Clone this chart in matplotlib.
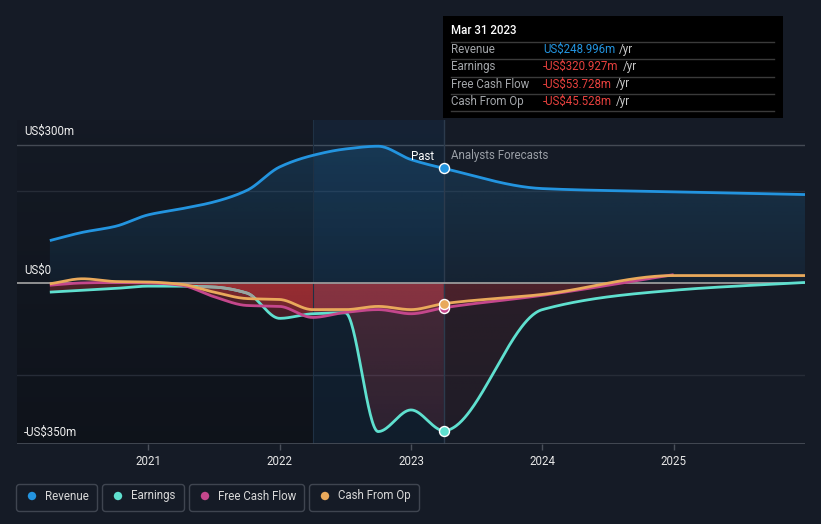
import numpy as np
import matplotlib
matplotlib.use("Agg")
import matplotlib.pyplot as plt
from matplotlib.patches import Rectangle, FancyBboxPatch, Polygon, Circle
from matplotlib.transforms import IdentityTransform

plt.rcParams['font.family'] = ['Roboto', 'DejaVu Sans']

# ---------------- data (US$ m) ----------------
past_x = [2020.25, 2020.5, 2020.75, 2021.0, 2021.25, 2021.5, 2021.75,
          2022.0, 2022.25, 2022.5, 2022.75, 2023.0, 2023.25]
revenue_past = [92, 110, 123, 148, 161, 176, 201, 252, 277, 291, 297, 268, 249]
earnings_past = [-20, -16, -12, -7, -7, -9, -22, -77, -67, -65, -323, -276, -321]
fcf_past = [-5, 0, 1, 0, -5, -30, -49, -51, -75, -64, -58, -67, -54]
cfo_past = [-2, 9, 3, 2, -3, -20, -34, -36, -58, -58, -51, -58, -45]

fc_x = [2024.0, 2025.0, 2026.0]
revenue_fc = [205, 198, 192]
earnings_fc = [-58, -16, 1]
fcf_fc_x = [2024.0, 2025.0]
fcf_fc = [-27, 18]
cfo_fc = [-25, 16, 16]

year_ticks = [2021, 2022, 2023, 2024, 2025]
tooltip_rows = [("Revenue", "US$248.996m"), ("Earnings", "-US$320.927m"),
                ("Free Cash Flow", "-US$53.728m"), ("Cash From Op", "-US$45.528m")]
legend_names = ["Revenue", "Earnings", "Free Cash Flow", "Cash From Op"]

# ---------------- style ----------------
BG = "#151b26"
C_REV = "#2394df"
C_EARN = "#5fe0cf"
C_FCF = "#c4478c"
C_CFO = "#e9a95b"
W, H = 821, 524
NOW = 2023.25


def pchip(x, y, xn):
    x = np.asarray(x, float); y = np.asarray(y, float)
    h = np.diff(x); d = np.diff(y) / h
    n = len(x); m = np.zeros(n)
    m[0] = d[0]; m[-1] = d[-1]
    for k in range(1, n - 1):
        if d[k - 1] * d[k] <= 0:
            m[k] = 0.0
        else:
            w1 = 2 * h[k] + h[k - 1]; w2 = h[k] + 2 * h[k - 1]
            m[k] = (w1 + w2) / (w1 / d[k - 1] + w2 / d[k])
    out = np.empty_like(xn)
    idx = np.clip(np.searchsorted(x, xn) - 1, 0, n - 2)
    for i, (xi, k) in enumerate(zip(xn, idx)):
        t = (xi - x[k]) / h[k]
        h00 = 2 * t**3 - 3 * t**2 + 1; h10 = t**3 - 2 * t**2 + t
        h01 = -2 * t**3 + 3 * t**2; h11 = t**3 - t**2
        out[i] = h00 * y[k] + h10 * h[k] * m[k] + h01 * y[k + 1] + h11 * h[k] * m[k + 1]
    return out


def curve(xs, ys):
    xn = np.linspace(xs[0], xs[-1], 800)
    return xn, pchip(xs, ys, xn)


fig = plt.figure(figsize=(W / 100, H / 100), dpi=100, facecolor=BG)
ax_top_px, ax_bot_px = 120, 444
ax = fig.add_axes([17 / W, (H - ax_bot_px) / H, (805 - 17) / W, (ax_bot_px - ax_top_px) / H])
ax.set_facecolor(BG)
XMIN, XMAX = 2020.0, 2026.0
YMIN, YMAX = -350, 354
for s in ax.spines.values():
    s.set_visible(False)

# past darkening gradient
dark = np.zeros((200, 2, 4))
dark[..., 3] = np.linspace(0.04, 0.30, 200)[:, None]
ax.imshow(dark, extent=[XMIN, NOW, YMIN, YMAX], aspect='auto', origin='upper', zorder=0.5)

# grid lines
for yv, col in [(300, "#444a54"), (200, "#262c37"), (-200, "#262c37")]:
    ax.axhline(yv, color=col, lw=1, zorder=1)

# series curves
rx, ry = curve(past_x + fc_x, revenue_past + revenue_fc)
ex, ey = curve(past_x + fc_x, earnings_past + earnings_fc)
fx, fy = curve(past_x + fcf_fc_x, fcf_past + fcf_fc)
cx, cy = curve(past_x + fc_x, cfo_past + cfo_fc)

# revenue gradient fill
gy = np.linspace(1, 0, 200)
img = np.zeros((200, 2, 4))
img[..., 0], img[..., 1], img[..., 2] = 35 / 255, 148 / 255, 223 / 255
img[..., 3] = (0.07 + 0.13 * gy)[:, None]
poly = Polygon(np.column_stack([np.r_[rx, rx[::-1]], np.r_[ry, np.zeros_like(rx)]]),
               closed=True, fc='none', ec='none')
ax.add_patch(poly)
im = ax.imshow(img, extent=[XMIN, XMAX, 0, 300], aspect='auto', origin='upper', zorder=2)
im.set_clip_path(poly)

# red negative fills
NX = 600
xs_img = np.linspace(XMIN, XMAX, NX)
base = np.where(xs_img < NOW, 0.29, 0.10)
depth = np.linspace(0, 1, 200)
red = np.zeros((200, NX, 4))
red[..., 0], red[..., 1], red[..., 2] = 228 / 255, 58 / 255, 62 / 255
red[..., 3] = base[None, :] * (1 - 0.5 * depth)[:, None]
for xx, yy in [(ex, ey), (fx, fy), (cx, cy)]:
    neg = np.minimum(yy, 0)
    p = Polygon(np.column_stack([np.r_[xx, xx[::-1]], np.r_[neg, np.zeros_like(xx)]]),
                closed=True, fc='none', ec='none')
    ax.add_patch(p)
    r = ax.imshow(red, extent=[XMIN, XMAX, -350, 0], aspect='auto', origin='upper', zorder=2.2)
    r.set_clip_path(p)

# highlight band (last year of past)
ax.add_patch(Rectangle((2022.25, YMIN), 1.0, YMAX - YMIN, fc=(0.12, 0.42, 0.68), alpha=0.12,
                       ec='none', zorder=2.5))
ax.axvline(2022.25, color="#1f3144", lw=0.8, zorder=2.6)
ax.axvline(NOW, color="#2c3b4d", lw=1.0, zorder=2.6)

# zero line and bottom axis
ax.axhline(0, color="#9a9a9a", lw=1.3, zorder=3)
ax.axhline(YMIN + 0.8, color="#4a505a", lw=1.2, zorder=3)

# lines
ax.plot(ex, ey, color=C_EARN, lw=2.0, zorder=4, solid_capstyle='butt')
seg = (ex >= 2021.38) & (ex <= 2021.8)
ax.plot(ex[seg], ey[seg], color="#9aa39f", lw=2.0, zorder=4.05)
ax.plot(fx, fy, color=C_FCF, lw=2.0, zorder=4.1, solid_capstyle='butt')
ax.plot(cx, cy, color=C_CFO, lw=2.0, zorder=4.2, solid_capstyle='butt')
ax.plot(rx, ry, color=C_REV, lw=2.0, zorder=4.3, solid_capstyle='butt')

# markers at the "now" point
for val, col, z in [(revenue_past[-1], C_REV, 5), (earnings_past[-1], C_EARN, 5),
                    (fcf_past[-1], C_FCF, 5.1), (cfo_past[-1], C_CFO, 5.2)]:
    ax.plot([NOW], [val], 'o', ms=7.2, mfc=col, mec='white', mew=1.0, zorder=z)

ax.set_xlim(XMIN, XMAX)
ax.set_ylim(YMIN, YMAX)
ax.set_xticks(year_ticks)
ax.set_xticklabels([str(y) for y in year_ticks])
ax.tick_params(axis='x', colors="#4a505a", labelcolor="#e6e6e6", labelsize=8.3, length=4,
               width=1, pad=4)
ax.set_yticks([])

# y labels
for yv, lab, ypx in [(300, "US$300m", 131), (0, "US$0", 270), (-350, "-US$350m", 432)]:
    fig.text(24, H - ypx, lab, transform=IdentityTransform(), color="#eeeeee", fontsize=8.3,
             va='center', ha='left')

# Past / Analysts Forecasts
fig.text(434, H - 156, "Past", transform=IdentityTransform(), color="#ffffff", fontsize=8.3,
         ha='right', va='center')
fig.text(451, H - 156, "Analysts Forecasts", transform=IdentityTransform(), color="#9a9fa6",
         fontsize=8.3, ha='left', va='center')

# tooltip
fig.add_artist(Rectangle((443, H - 118), 340, 102, transform=IdentityTransform(),
                         fc="#000000", ec='none'))
fig.text(451, H - 31, "Mar 31 2023", transform=IdentityTransform(), color="#ffffff",
         fontsize=8.3, ha='left', va='center', fontweight='medium')
sep_y = [41.5, 58.5, 76.5, 93.5, 110.5]
for yy in sep_y:
    fig.add_artist(plt.Line2D([451, 774], [H - yy, H - yy], transform=IdentityTransform(),
                              color="#3a3a3a", lw=1))
row_y = [49.5, 66.5, 84, 101]
for (lab, val), yy in zip(tooltip_rows, row_y):
    fig.text(451, H - yy, lab, transform=IdentityTransform(), color="#a3a6aa", fontsize=8.3,
             ha='left', va='center')
    vc = C_REV if not val.startswith('-') else "#e8413e"
    t = fig.text(543, H - yy, val, transform=IdentityTransform(), color=vc, fontsize=8.3,
                 ha='left', va='center')
    fig.canvas.draw()
    bb = t.get_window_extent()
    fig.text(bb.x1 + 4, H - yy, "/yr", transform=IdentityTransform(), color="#c8c8c8",
             fontsize=8.3, ha='left', va='center')

# legend
boxes = [(16.5, 97.5), (102.5, 184.5), (189.5, 304.5), (309.5, 419.5)]
cols = [C_REV, C_EARN, C_FCF, C_CFO]
for (x0, x1), name, col in zip(boxes, legend_names, cols):
    fig.add_artist(FancyBboxPatch((x0, H - 511.5), x1 - x0, 27,
                                  boxstyle="round,pad=0,rounding_size=3",
                                  transform=IdentityTransform(), fc='none', ec="#3f4550", lw=1))
    fig.add_artist(Circle((x0 + 15.5, H - 496), 4.2, transform=IdentityTransform(), fc=col,
                          ec='none'))
    fig.text(x0 + 28, H - 496, name, transform=IdentityTransform(), color="#d8d8d8",
             fontsize=8.3, ha='left', va='center')

fig.savefig("out.png", dpi=100, facecolor=BG)
